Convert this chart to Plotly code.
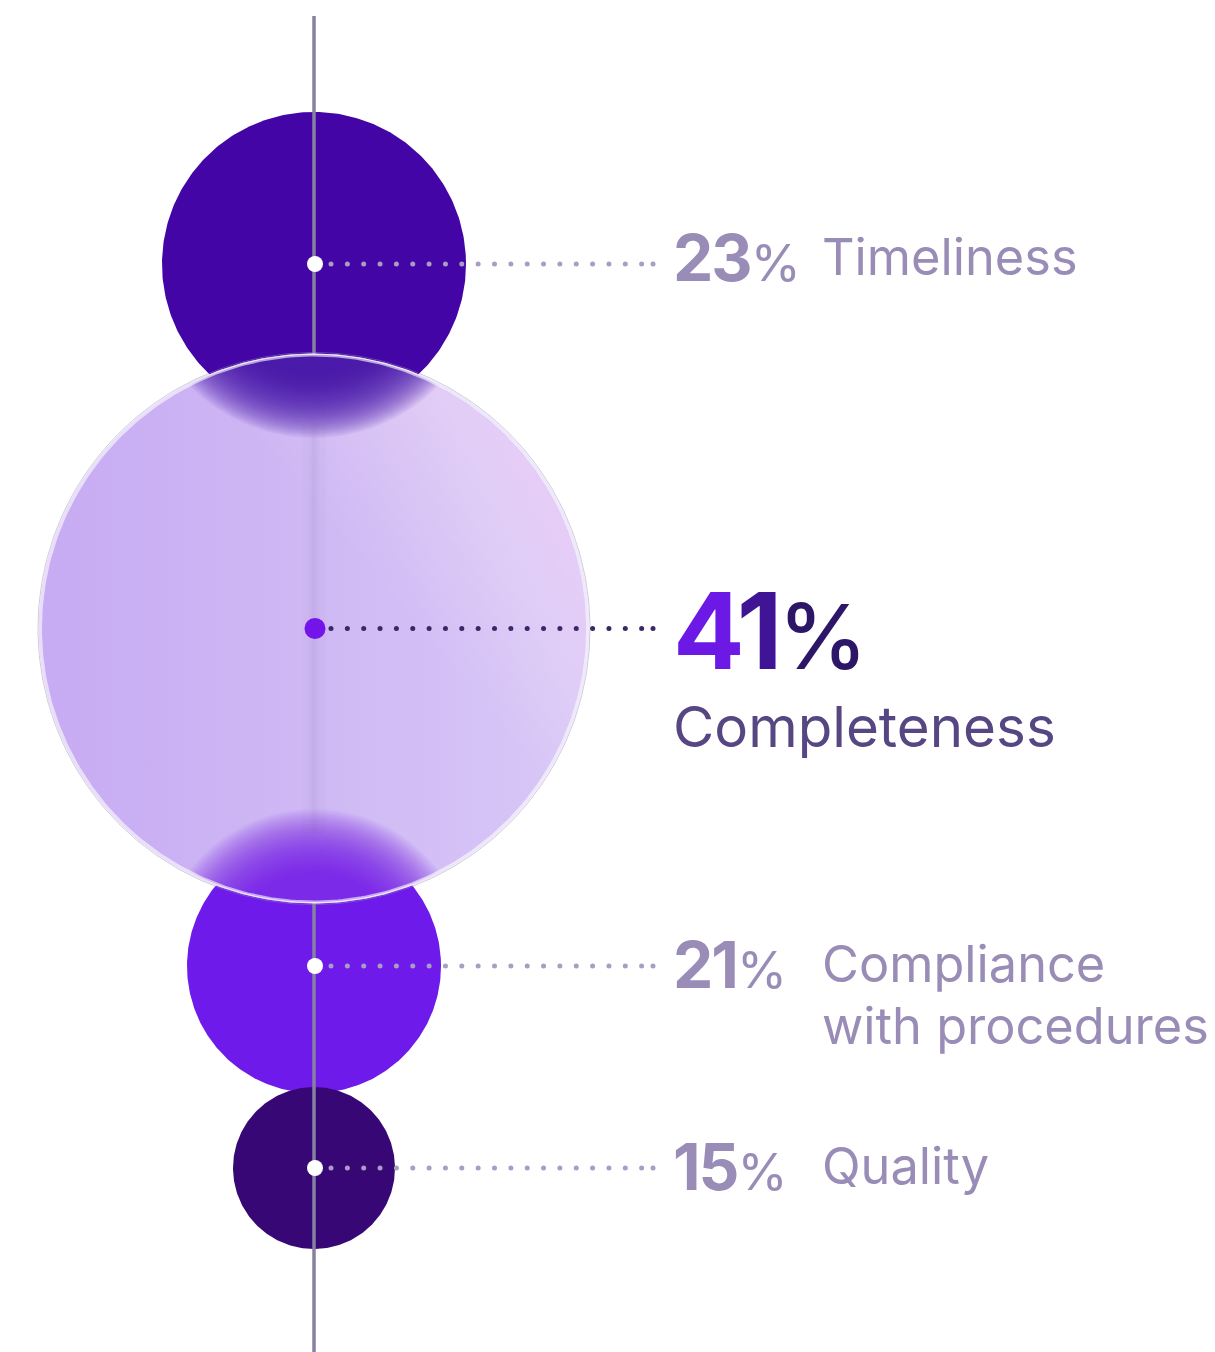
import numpy as np
import plotly.graph_objects as go

# ---- data -------------------------------------------------------------
categories = ["Timeliness", "Completeness", "Compliance<br>with procedures", "Quality"]
shares = [23, 41, 21, 15]

# ---- layout / style ---------------------------------------------------
W, H = 1215, 1352
AXIS_X = 314
centers_y = [264, 628.5, 966, 1168]
radii = [152, 275, 127, 81]
circle_colors = ["#4305A5", "#CDB4F4", "#6E1AEB", "#370875"]
GLASS = 1  # index of the highlighted (frosted) bubble

TEXT_MUTED = "#998CB6"
TEXT_MAIN = "#564783"
FONT = "Inter"


def circle_pts(cx, cy, r, n=361):
    t = np.linspace(0, 2 * np.pi, n)
    return cx + r * np.cos(t), cy + r * np.sin(t)


def arc(cx, cy, r, a0, a1, n=120):
    t = np.linspace(a0, a1, n)
    return np.column_stack([cx + r * np.cos(t), cy + r * np.sin(t)])


def lens(c1, r1, c2, r2):
    """Polygon of the intersection of two discs."""
    (x1, y1), (x2, y2) = c1, c2
    d = np.hypot(x2 - x1, y2 - y1)
    a = (d * d + r1 * r1 - r2 * r2) / (2 * d)
    b = d - a
    al1 = np.arccos(np.clip(a / r1, -1, 1))
    al2 = np.arccos(np.clip(b / r2, -1, 1))
    th12 = np.arctan2(y2 - y1, x2 - x1)
    th21 = th12 + np.pi
    A = arc(x1, y1, r1, th12 - al1, th12 + al1)
    B = arc(x2, y2, r2, th21 - al2, th21 + al2)
    if np.hypot(*(A[-1] - B[0])) > np.hypot(*(A[-1] - B[-1])):
        B = B[::-1]
    P = np.vstack([A, B, A[:1]])
    return P[:, 0], P[:, 1]


fig = go.Figure()


def filled(x, y, color, opacity=1.0, **kw):
    fig.add_trace(go.Scatter(
        x=x, y=y, mode="lines", fill="toself", fillcolor=color,
        line=dict(width=0), opacity=opacity, hoverinfo="skip",
        showlegend=False, **kw))


# solid bubbles
for i, (cy, r, col) in enumerate(zip(centers_y, radii, circle_colors)):
    if i == GLASS:
        continue
    x, y = circle_pts(AXIS_X, cy, r)
    filled(x, y, col)

# vertical spine
fig.add_trace(go.Scatter(
    x=[AXIS_X, AXIS_X], y=[16, H], mode="lines",
    line=dict(color="#85819F", width=3.5), hoverinfo="skip", showlegend=False))

# frosted bubble
gcx, gcy, gr = AXIS_X, centers_y[GLASS], radii[GLASS]
gx, gy = circle_pts(gcx, gcy, gr)
fig.add_trace(go.Scatter(
    x=gx, y=gy, mode="lines", fill="toself", line=dict(width=0),
    fillgradient=dict(type="horizontal",
                      colorscale=[[0, "#C7ABF3"], [0.45, "#CEB7F4"], [1, "#D9C8F7"]]),
    hoverinfo="skip", showlegend=False))

# soft light sheen towards the upper right of the glass
sheen_dir = -np.pi / 4.5
t = np.linspace(sheen_dir - np.pi, sheen_dir + np.pi, 721)
sx = gcx + (gr - 3) * np.cos(t)
sy = gcy + (gr - 3) * np.sin(t)
proj = (sx - gcx) * np.cos(sheen_dir) + (sy - gcy) * np.sin(sheen_dir)
for c in np.linspace(0.3, 0.92, 14) * gr:
    m = proj >= c
    if m.sum() < 3:
        continue
    filled(np.append(sx[m], sx[m][0]), np.append(sy[m], sy[m][0]), "#F3E8FF", 0.04)


# blurred silhouettes of neighbouring bubbles seen through the glass
def glow(idx, s_values, color, alpha):
    for s in s_values:
        lx, ly = lens((AXIS_X, centers_y[idx]), radii[idx] + s, (gcx, gcy), gr - 1.5)
        filled(lx, ly, color, alpha)


glow(0, np.linspace(-40, 22, 40), "#4709AD", 0.057)
glow(2, np.linspace(-34, 30, 40), "#6E1AEB", 0.042)

# faint blurred spine inside the glass
for w, a in [(24, 0.02), (10, 0.03), (4, 0.03)]:
    fig.add_trace(go.Scatter(
        x=[AXIS_X, AXIS_X], y=[gcy - gr + 70, gcy + gr - 70], mode="lines",
        line=dict(color="#6E5A9A", width=w), opacity=a,
        hoverinfo="skip", showlegend=False))

# glass rim
rx, ry = circle_pts(gcx, gcy, gr - 1.5)
fig.add_trace(go.Scatter(x=rx, y=ry, mode="lines",
                         line=dict(color="rgba(255,255,255,0.6)", width=3),
                         hoverinfo="skip", showlegend=False))
ox, oy = circle_pts(gcx, gcy, gr + 1)
fig.add_trace(go.Scatter(x=ox, y=oy, mode="lines",
                         line=dict(color="rgba(150,140,175,0.45)", width=1),
                         hoverinfo="skip", showlegend=False))

# dotted leaders and centre dots
LEADER_END = 653
for i, cy in enumerate(centers_y):
    xs = np.append(np.arange(331, 645, 16.35), LEADER_END)
    dot_col = "#3A2768" if i == GLASS else "#A99DC4"
    fig.add_trace(go.Scatter(
        x=xs, y=np.full_like(xs, cy), mode="markers",
        marker=dict(size=5, color=dot_col, line=dict(width=0)),
        hoverinfo="skip", showlegend=False))
    fig.add_trace(go.Scatter(
        x=[AXIS_X + 1], y=[cy], mode="markers",
        marker=dict(size=21 if i == GLASS else 16,
                    color="#7314EA" if i == GLASS else "#FFFFFF",
                    line=dict(width=0)),
        hoverinfo="skip", showlegend=False))

# ---- labels -----------------------------------------------------------
NUM_X = 671
LABEL_X = 820
label_mid = [256, None, 963, 1165]
line_gap = 62

for i, (cat, val) in enumerate(zip(categories, shares)):
    if i == GLASS:
        continue
    fig.add_annotation(
        x=NUM_X, y=label_mid[i] + 1, xref="x", yref="y",
        xanchor="left", yanchor="middle", showarrow=False,
        text=(f"<span style='letter-spacing:-2px'>{val}</span>"
              f"<span style='font-size:51px;font-weight:400'>%</span>"),
        font=dict(family=FONT, size=64, color=TEXT_MUTED, weight=700))
    for j, line in enumerate(cat.split("<br>")):
        fig.add_annotation(
            x=LABEL_X, y=label_mid[i] + j * line_gap, xref="x", yref="y",
            xanchor="left", yanchor="middle", showarrow=False, text=line,
            font=dict(family=FONT, size=50.5, color=TEXT_MUTED, weight=400))

# highlighted value
digits = str(shares[GLASS])
digit_cols = ["#6C19E6", "#3F1596"]
big = "".join(f"<span style='color:{c}'>{d}</span>" for d, c in zip(digits, digit_cols))
fig.add_annotation(
    x=NUM_X, y=630, xref="x", yref="y", xanchor="left", yanchor="middle",
    showarrow=False,
    text=(f"<span style='letter-spacing:-4px'>{big}</span>"
          f"<span style='font-size:90px;font-weight:500;color:#2D1668'>%</span>"),
    font=dict(family=FONT, size=106, color="#3F1596", weight=700))
fig.add_annotation(
    x=NUM_X, y=726, xref="x", yref="y", xanchor="left", yanchor="middle",
    showarrow=False, text=categories[GLASS],
    font=dict(family=FONT, size=56.5, color=TEXT_MAIN, weight=400))

fig.update_layout(
    width=W, height=H, margin=dict(l=0, r=0, t=0, b=0),
    paper_bgcolor="#FFFFFF", plot_bgcolor="#FFFFFF",
    xaxis=dict(range=[0, W], visible=False, fixedrange=True),
    yaxis=dict(range=[H, 0], visible=False, fixedrange=True),
    showlegend=False,
)

fig.write_html("out.html", config={"displayModeBar": False})
